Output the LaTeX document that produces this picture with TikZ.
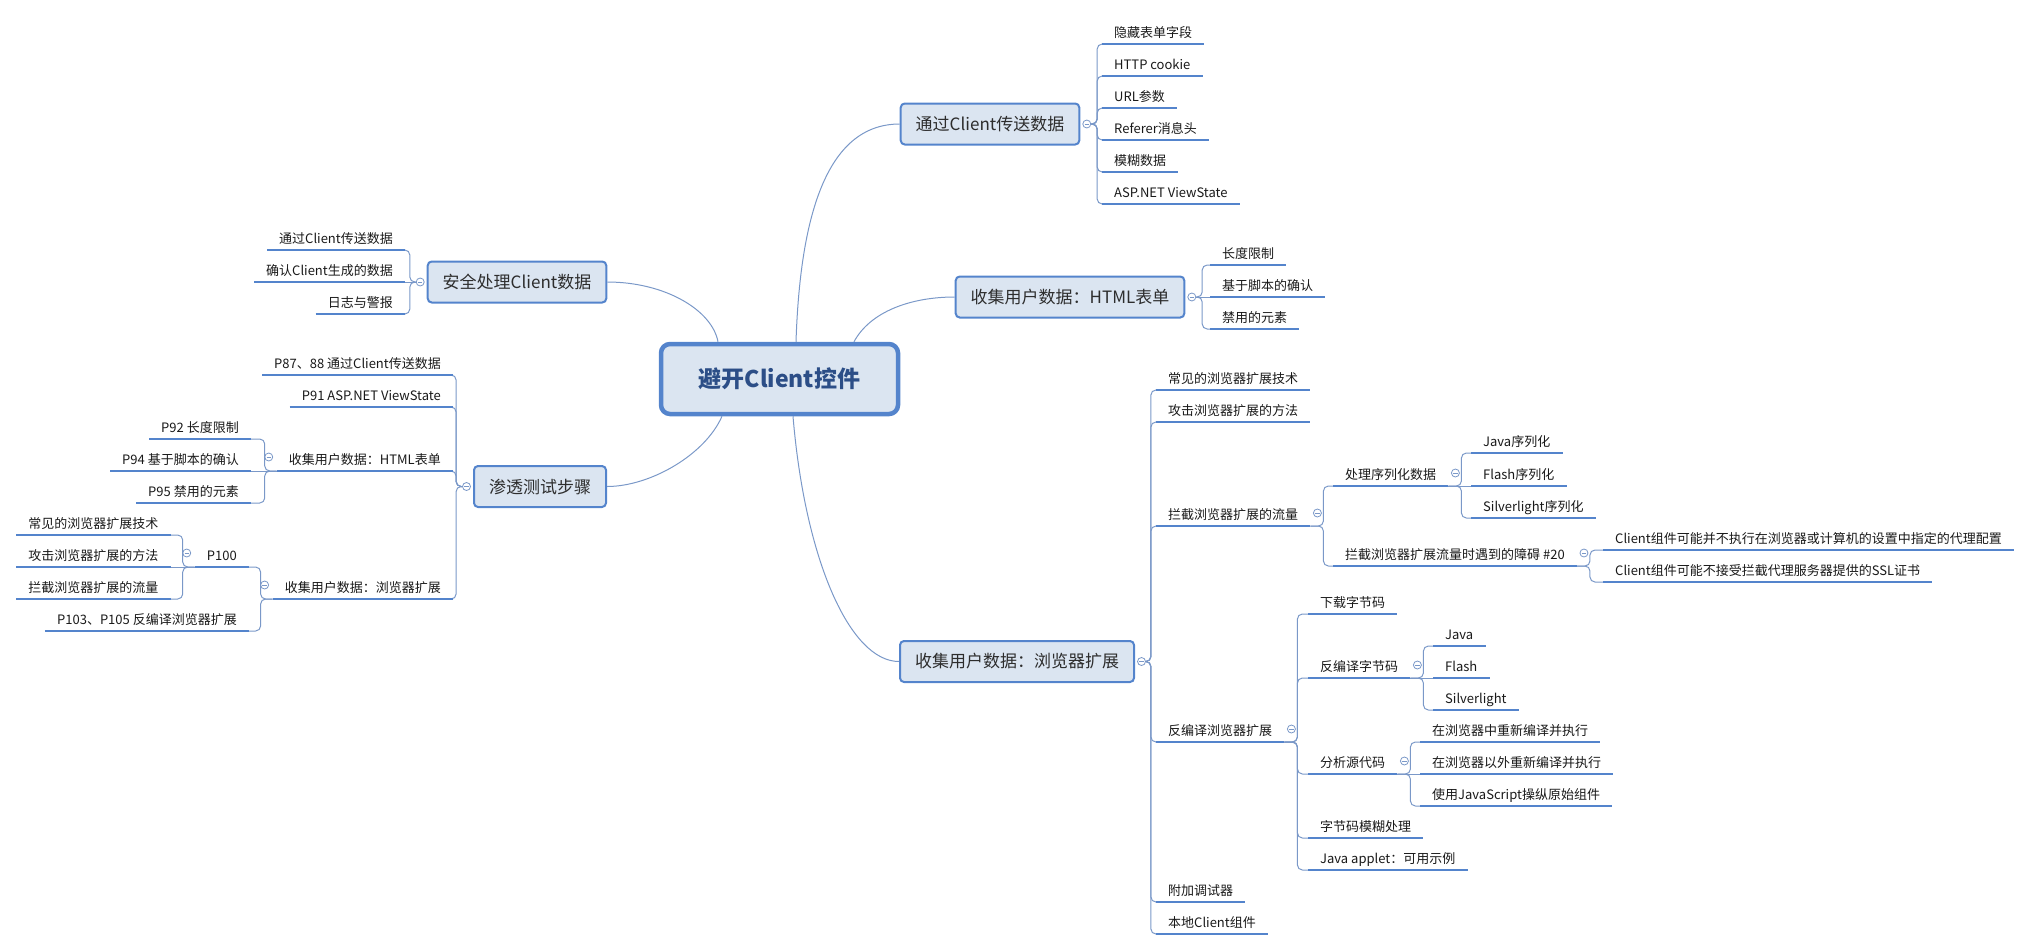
\documentclass[tikz,border=0pt]{standalone}
\usepackage{fontspec}
\newfontfamily\cjk{Noto Sans CJK SC}
\usepackage{tikz}
\usetikzlibrary{calc,positioning}
\definecolor{barblue}{RGB}{84,132,204}
\definecolor{linkblue}{RGB}{122,152,200}
\definecolor{boxfill}{RGB}{219,229,241}
\definecolor{roottext}{RGB}{44,78,135}
\definecolor{boxtext}{RGB}{45,45,45}

\begin{document}
\begin{tikzpicture}[x=1pt, y=-1pt,
			box/.style  = {draw=barblue, line width=2pt, fill=boxfill, rounded corners=4pt, text=boxtext, font=\cjk\fontsize{17}{20}\selectfont, minimum height=41pt, inner xsep=15pt},
			root/.style = {box, line width=4.5pt, rounded corners=9pt, minimum height=70pt, minimum width=237pt, text=roottext, font=\cjk\bfseries\fontsize{23}{28}\selectfont},
			leaf/.style = {font=\cjk\fontsize{13}{15}\selectfont, text=black!90, text height=10pt, text depth=3pt, inner xsep=12pt, inner ysep=3pt},
			rleaf/.style = {leaf, anchor=south west},
			lleaf/.style = {leaf, anchor=south east},
			collapse/.style = {circle, draw=linkblue, fill=white, line width=0.8pt, inner sep=0pt, minimum size=8pt,
				path picture={\draw[linkblue, line width=0.8pt] ([xshift=-2.2pt]path picture bounding box.center) -- ([xshift=2.2pt]path picture bounding box.center);}},
			bar/.style  = {draw=barblue, line width=2.6pt},
			link/.style = {draw=linkblue, line width=1pt, rounded corners=5pt}]
			
			\useasboundingbox (0,0) rectangle (2031,951);
			
			\node[root] (root) at (779.5,379) {避开Client控件};
			\node[box] (c1) at (990,124) {通过Client传送数据};
			\node[box] (c2) at (1070,297) {收集用户数据：HTML表单};
			\node[box] (c3) at (1017,661.5) {收集用户数据：浏览器扩展};
			\node[box] (c4) at (517,282) {安全处理Client数据};
			\node[box] (c5) at (540,486.5) {渗透测试步骤};
			
			\draw[link] ([xshift=16.5pt]root.north) .. controls (800,220) and (825,124) .. (c1.west);
			\draw[link] ([xshift=74.5pt]root.north) .. controls (870,312) and (910,297) .. (c2.west);
			\draw[link] ([xshift=13.5pt]root.south) .. controls (805,560) and (850,661.5) .. (c3.west);
			\draw[link] ([xshift=-61.5pt]root.north) .. controls (712,310) and (665,282) .. (c4.east);
			\draw[link] ([xshift=-57.5pt]root.south) .. controls (705,455) and (650,486.5) .. (c5.east);
			
			% right side
			\begin{scope}[every node/.style={rleaf}]
				\node (c11) at (1102,44) {隐藏表单字段};
				\node (c12) at (1102,76) {HTTP cookie};
				\node (c13) at (1102,108) {URL参数};
				\node (c14) at (1102,140) {Referer消息头};
				\node (c15) at (1102,172) {模糊数据};
				\node (c16) at (1102,204) {ASP.NET ViewState};
				
				\node (c21) at (1210,265) {长度限制};
				\node (c22) at (1210,297) {基于脚本的确认};
				\node (c23) at (1210,329) {禁用的元素};
				
				\node (c31) at (1156,390) {常见的浏览器扩展技术};
				\node (c32) at (1156,422) {攻击浏览器扩展的方法};
				\node (c33) at (1156,526) {拦截浏览器扩展的流量};
				\node (c34) at (1156,742) {反编译浏览器扩展};
				\node (c35) at (1156,902) {附加调试器};
				\node (c36) at (1156,934) {本地Client组件};
				
				\node (c331) at (1333,486) {处理序列化数据};
				\node (c332) at (1333,566) {拦截浏览器扩展流量时遇到的障碍 \#20};
				\node (c3311) at (1471,453) {Java序列化};
				\node (c3312) at (1471,486) {Flash序列化};
				\node (c3313) at (1471,518) {Silverlight序列化};
				\node (c3321) at (1603,550) {Client组件可能并不执行在浏览器或计算机的设置中指定的代理配置};
				\node (c3322) at (1603,582) {Client组件可能不接受拦截代理服务器提供的SSL证书};
				
				\node (c341) at (1308,614) {下载字节码};
				\node (c342) at (1308,678) {反编译字节码};
				\node (c343) at (1308,774) {分析源代码};
				\node (c344) at (1308,838) {字节码模糊处理};
				\node (c345) at (1308,870) {Java applet：可用示例};
				\node (c3421) at (1433,646) {Java};
				\node (c3422) at (1433,678) {Flash};
				\node (c3423) at (1433,710) {Silverlight};
				\node (c3431) at (1420,742) {在浏览器中重新编译并执行};
				\node (c3432) at (1420,774) {在浏览器以外重新编译并执行};
				\node (c3433) at (1420,806) {使用JavaScript操纵原始组件};
			\end{scope}
			
			% left side
			\begin{scope}[every node/.style={lleaf}]
				\node (c41) at (405,250) {通过Client传送数据};
				\node (c42) at (405,282) {确认Client生成的数据};
				\node (c43) at (405,314) {日志与警报};
				
				\node (c51) at (453,375) {P87、88 通过Client传送数据};
				\node (c52) at (453,407) {P91 ASP.NET ViewState};
				\node (c53) at (453,471) {收集用户数据：HTML表单};
				\node (c54) at (453,599) {收集用户数据：浏览器扩展};
				
				\node (c531) at (251,439) {P92 长度限制};
				\node (c532) at (251,471) {P94 基于脚本的确认};
				\node (c533) at (251,503) {P95 禁用的元素};
				\node (c541) at (249,567) {P100};
				\node (c542) at (249,631) {P103、P105 反编译浏览器扩展};
				\node (c5411) at (170.5,535) {常见的浏览器扩展技术};
				\node (c5412) at (170.5,567) {攻击浏览器扩展的方法};
				\node (c5413) at (170.5,599) {拦截浏览器扩展的流量};
			\end{scope}
			
			\node[collapse] (m1) at ([xshift=6.5pt]c1.east) {};
			\node[collapse] (m2) at ([xshift=6.5pt]c2.east) {};
			\node[collapse] (m3) at ([xshift=6.5pt]c3.east) {};
			\node[collapse] (m4) at ([xshift=-6.5pt]c4.west) {};
			\node[collapse] (m5) at ([xshift=-6.5pt]c5.west) {};
			\node[collapse] (m33) at ([xshift=7pt,yshift=13pt]c33.south east) {};
			\node[collapse] (m331) at ([xshift=7pt,yshift=13pt]c331.south east) {};
			\node[collapse] (m332) at ([xshift=7pt,yshift=13pt]c332.south east) {};
			\node[collapse] (m34) at ([xshift=7pt,yshift=13pt]c34.south east) {};
			\node[collapse] (m342) at ([xshift=7pt,yshift=13pt]c342.south east) {};
			\node[collapse] (m343) at ([xshift=7pt,yshift=13pt]c343.south east) {};
			\node[collapse] (m53) at ([xshift=-8pt,yshift=14pt]c53.south west) {};
			\node[collapse] (m54) at ([xshift=-8pt,yshift=14pt]c54.south west) {};
			\node[collapse] (m541) at ([xshift=-8pt,yshift=14pt]c541.south west) {};
			
			\foreach \value in {1,...,6}
			\draw[link] (m1.east) -- ++(6,0) |- (c1\value.south west);
			
			\foreach \value in {1,3}
			\draw[link] (m2.east) -- ++(6,0) |- (c2\value.south west);
			\draw[link] (m2.east) -- (c22.south west);
			
			\foreach \value in {1,...,6}
			\draw[link] (m3.east) -- ++(5,0) |- (c3\value.south west);
			
			\foreach \value in {1,2}
			\draw[link] (c33.south east) -- ++(13,0) |- (c33\value.south west);
			
			\foreach \value in {1,3}
			\draw[link] (c331.south east) -- ++(13,0) |- (c331\value.south west);
			\draw[link] (c331.south east) -- (c3312.south west);
			
			\foreach \value in {1,2}
			\draw[link] (c332.south east) -- ++(13,0) |- (c332\value.south west);
			
			\foreach \value in {1,...,5}
			\draw[link] (c34.south east) -- ++(13,0) |- (c34\value.south west);
			
			\foreach \value in {1,3}
			\draw[link] (c342.south east) -- ++(13,0) |- (c342\value.south west);
			\draw[link] (c342.south east) -- (c3422.south west);
			
			\foreach \value in {1,3}
			\draw[link] (c343.south east) -- ++(13,0) |- (c343\value.south west);
			\draw[link] (c343.south east) -- (c3432.south west);
			
			\foreach \value in {1,3}
			\draw[link] (m4.west) -- ++(-6,0) |- (c4\value.south east);
			\draw[link] (m4.west) -- (c42.south east);
			
			\foreach \value in {1,...,4}
			\draw[link] (m5.west) -- ++(-6,0) |- (c5\value.south east);
			
			\foreach \value in {1,3}
			\draw[link] (c53.south west) -- ++(-12,0) |- (c53\value.south east);
			\draw[link] (c53.south west) -- (c532.south east);
			
			\foreach \value in {1,2}
			\draw[link] (c54.south west) -- ++(-12,0) |- (c54\value.south east);
			
			\foreach \value in {1,3}
			\draw[link] (c541.south west) -- ++(-12,0) |- (c541\value.south east);
			\draw[link] (c541.south west) -- (c5412.south east);
			
			\foreach \n in {c11,c12,c13,c14,c15,c16,c21,c22,c23,c31,c32,c33,c34,c35,c36,
				c331,c332,c3311,c3312,c3313,c3321,c3322,c341,c342,c343,c344,c345,
				c3421,c3422,c3423,c3431,c3432,c3433,c41,c42,c43,c51,c52,c53,c54,
				c531,c532,c533,c541,c542,c5411,c5412,c5413}
			\draw[bar] (\n.south west) -- (\n.south east);
		\end{tikzpicture}
\end{document}
